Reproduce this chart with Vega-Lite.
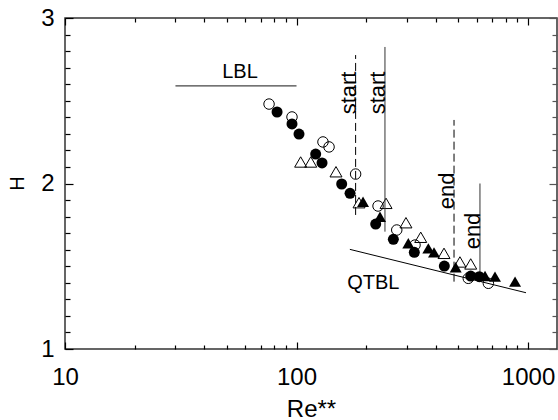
{
  "$schema": "https://vega.github.io/schema/vega-lite/v6.json",
  "width": 492,
  "height": 331,
  "autosize": {"type": "none"},
  "padding": {"left": 65, "top": 18, "right": 1, "bottom": 71},
  "background": "white",
  "config": {
    "view": {"stroke": "#333", "strokeWidth": 1.5},
    "font": "Liberation Sans",
    "axis": {
      "grid": false,
      "labelFont": "Liberation Sans",
      "titleFont": "Liberation Sans",
      "labelColor": "black",
      "titleColor": "black",
      "titleFontWeight": "normal"
    }
  },
  "datasets": {
    "measurements": [
      {"series": "open circle", "re": 76.1, "h": 2.48},
      {"series": "open circle", "re": 95.6, "h": 2.402},
      {"series": "open circle", "re": 130.1, "h": 2.251},
      {"series": "open circle", "re": 138.2, "h": 2.221},
      {"series": "open circle", "re": 180, "h": 2.057},
      {"series": "open circle", "re": 225, "h": 1.864},
      {"series": "open circle", "re": 271, "h": 1.719},
      {"series": "open circle", "re": 325, "h": 1.628},
      {"series": "open circle", "re": 552, "h": 1.427},
      {"series": "open circle", "re": 674, "h": 1.397},
      {"series": "filled circle", "re": 82.4, "h": 2.432},
      {"series": "filled circle", "re": 95.6, "h": 2.36},
      {"series": "filled circle", "re": 102.5, "h": 2.299},
      {"series": "filled circle", "re": 121, "h": 2.178},
      {"series": "filled circle", "re": 128.9, "h": 2.124},
      {"series": "filled circle", "re": 156.7, "h": 1.997},
      {"series": "filled circle", "re": 170.3, "h": 1.941},
      {"series": "filled circle", "re": 219.8, "h": 1.755},
      {"series": "filled circle", "re": 262, "h": 1.663},
      {"series": "filled circle", "re": 322.7, "h": 1.584},
      {"series": "filled circle", "re": 435, "h": 1.501},
      {"series": "filled circle", "re": 565.5, "h": 1.441},
      {"series": "filled circle", "re": 616, "h": 1.437},
      {"series": "open triangle", "re": 104.2, "h": 2.13},
      {"series": "open triangle", "re": 115.2, "h": 2.13},
      {"series": "open triangle", "re": 148.1, "h": 2.071},
      {"series": "open triangle", "re": 186.2, "h": 1.884},
      {"series": "open triangle", "re": 243.6, "h": 1.88},
      {"series": "open triangle", "re": 297, "h": 1.763},
      {"series": "open triangle", "re": 344, "h": 1.675},
      {"series": "open triangle", "re": 433.6, "h": 1.578},
      {"series": "open triangle", "re": 508, "h": 1.526},
      {"series": "open triangle", "re": 565.5, "h": 1.514},
      {"series": "filled triangle", "re": 193.8, "h": 1.89},
      {"series": "filled triangle", "re": 229.4, "h": 1.799},
      {"series": "filled triangle", "re": 304, "h": 1.639},
      {"series": "filled triangle", "re": 371, "h": 1.608},
      {"series": "filled triangle", "re": 392.6, "h": 1.584},
      {"series": "filled triangle", "re": 487, "h": 1.494},
      {"series": "filled triangle", "re": 652, "h": 1.441},
      {"series": "filled triangle", "re": 720, "h": 1.437},
      {"series": "filled triangle", "re": 879, "h": 1.407}
    ],
    "lbl": [
      {"re": 30, "h": 2.59},
      {"re": 100, "h": 2.59}
    ],
    "qtbl": [
      {"re": 170, "h": 1.602},
      {"re": 980, "h": 1.34}
    ],
    "dashedMarkers": [
      {"re": 180, "h": 1.81, "h2": 2.776},
      {"re": 479, "h": 1.407, "h2": 2.384}
    ],
    "solidMarkers": [
      {"re": 241, "h": 1.709, "h2": 2.825},
      {"re": 620, "h": 1.457, "h2": 2.0}
    ],
    "regimeLabels": [
      {"label": "LBL", "re": 57, "h": 2.672},
      {"label": "QTBL", "re": 214.8, "h": 1.401}
    ],
    "transitionLabels": [
      {"label": "start", "re": 180, "h": 2.547},
      {"label": "start", "re": 241, "h": 2.547},
      {"label": "end", "re": 479, "h": 1.955},
      {"label": "end", "re": 620, "h": 1.713}
    ]
  },
  "resolve": {
    "scale": {"x": "shared", "y": "shared"},
    "axis": {"x": "independent", "y": "independent"}
  },
  "layer": [
    {
      "data": {"name": "measurements"},
      "transform": [{"filter": "datum.series === 'open circle'"}],
      "mark": {"type": "point", "shape": "circle", "filled": false, "size": 110, "stroke": "black", "strokeWidth": 1, "opacity": 1},
      "encoding": {
        "x": {"field": "re", "type": "quantitative", "title": "Re**", "scale": {"type": "log", "domain": [10, 1334], "nice": false},
          "axis": {"orient": "bottom", "offset": -7, "domain": false, "values": [10, 100, 1000], "labelExpr": "datum.value + ''", "tickSize": 7, "tickWidth": 1.2, "tickColor": "black", "labelPadding": 16, "labelFontSize": 24, "labelFlush": false, "labelOverlap": false, "titleFontSize": 24, "titleBaseline": "alphabetic", "titleY": 74}},
        "y": {"field": "h", "type": "quantitative", "title": "H", "scale": {"domain": [1, 3], "nice": false, "zero": false},
          "axis": {"orient": "left", "offset": -8, "domain": false, "values": [1, 2, 3], "labelExpr": "datum.value + ''", "tickSize": 8, "tickWidth": 1.2, "tickColor": "black", "labelPadding": 11, "labelFontSize": 24, "labelFlush": false, "labelOverlap": false, "titleFontSize": 20, "titleAngle": 270, "titleBaseline": "alphabetic", "titleAlign": "center", "titleX": -50, "titleY": 165}}
      }
    },
    {
      "data": {"name": "measurements"},
      "transform": [{"filter": "datum.series === 'open triangle'"}],
      "mark": {"type": "point", "shape": "triangle-up", "filled": false, "size": 144, "stroke": "black", "strokeWidth": 1, "opacity": 1},
      "encoding": {
        "x": {"field": "re", "type": "quantitative", "title": null,
          "axis": {"orient": "bottom", "offset": -4, "domain": false, "values": [20, 30, 40, 50, 60, 70, 80, 90, 200, 300, 400, 500, 600, 700, 800, 900], "tickSize": 4, "tickWidth": 1.2, "tickColor": "black", "labels": false}},
        "y": {"field": "h", "type": "quantitative", "title": null,
          "axis": {"orient": "left", "offset": -5, "domain": false, "values": [1.1, 1.2, 1.3, 1.4, 1.5, 1.6, 1.7, 1.8, 1.9, 2.1, 2.2, 2.3, 2.4, 2.5, 2.6, 2.7, 2.8, 2.9], "tickSize": 5, "tickWidth": 1.2, "tickColor": "black", "labels": false}}
      }
    },
    {
      "data": {"name": "lbl"},
      "mark": {"type": "line", "color": "#444", "strokeWidth": 1.2},
      "encoding": {
        "x": {"field": "re", "type": "quantitative", "axis": null},
        "y": {"field": "h", "type": "quantitative", "axis": null}
      }
    },
    {
      "data": {"name": "qtbl"},
      "mark": {"type": "line", "color": "black", "strokeWidth": 1},
      "encoding": {
        "x": {"field": "re", "type": "quantitative", "axis": null},
        "y": {"field": "h", "type": "quantitative", "axis": null}
      }
    },
    {
      "data": {"name": "dashedMarkers"},
      "mark": {"type": "rule", "color": "black", "strokeWidth": 1, "strokeDash": [8, 4]},
      "encoding": {
        "x": {"field": "re", "type": "quantitative", "axis": null},
        "y": {"field": "h", "type": "quantitative", "axis": null},
        "y2": {"field": "h2"}
      }
    },
    {
      "data": {"name": "solidMarkers"},
      "mark": {"type": "rule", "color": "#333", "strokeWidth": 1},
      "encoding": {
        "x": {"field": "re", "type": "quantitative", "axis": null},
        "y": {"field": "h", "type": "quantitative", "axis": null},
        "y2": {"field": "h2"}
      }
    },
    {
      "data": {"name": "regimeLabels"},
      "mark": {"type": "text", "font": "Liberation Sans", "fontSize": 20, "align": "center", "baseline": "middle", "color": "black"},
      "encoding": {
        "x": {"field": "re", "type": "quantitative", "axis": null},
        "y": {"field": "h", "type": "quantitative", "axis": null},
        "text": {"field": "label"}
      }
    },
    {
      "data": {"name": "transitionLabels"},
      "mark": {"type": "text", "font": "Liberation Sans", "fontSize": 22, "align": "center", "baseline": "alphabetic", "angle": 270, "color": "black"},
      "encoding": {
        "x": {"field": "re", "type": "quantitative", "axis": null},
        "y": {"field": "h", "type": "quantitative", "axis": null},
        "text": {"field": "label"}
      }
    },
    {
      "data": {"name": "measurements"},
      "transform": [{"filter": "datum.series === 'filled circle'"}],
      "mark": {"type": "point", "shape": "circle", "filled": true, "size": 121, "color": "black", "opacity": 1},
      "encoding": {
        "x": {"field": "re", "type": "quantitative", "title": null,
          "axis": {"orient": "top", "offset": -7, "domain": false, "values": [10, 100, 1000], "tickSize": 7, "tickWidth": 1.2, "tickColor": "black", "labels": false}},
        "y": {"field": "h", "type": "quantitative", "title": null,
          "axis": {"orient": "right", "offset": -8, "domain": false, "values": [1, 2, 3], "tickSize": 8, "tickWidth": 1.2, "tickColor": "#555", "labels": false}}
      }
    },
    {
      "data": {"name": "measurements"},
      "transform": [{"filter": "datum.series === 'filled triangle'"}],
      "mark": {"type": "point", "shape": "triangle-up", "filled": true, "size": 144, "color": "black", "opacity": 1},
      "encoding": {
        "x": {"field": "re", "type": "quantitative", "title": null,
          "axis": {"orient": "top", "offset": -4, "domain": false, "values": [20, 30, 40, 50, 60, 70, 80, 90, 200, 300, 400, 500, 600, 700, 800, 900], "tickSize": 4, "tickWidth": 1.2, "tickColor": "black", "labels": false}},
        "y": {"field": "h", "type": "quantitative", "title": null,
          "axis": {"orient": "right", "offset": -5, "domain": false, "values": [1.1, 1.2, 1.3, 1.4, 1.5, 1.6, 1.7, 1.8, 1.9, 2.1, 2.2, 2.3, 2.4, 2.5, 2.6, 2.7, 2.8, 2.9], "tickSize": 5, "tickWidth": 1.2, "tickColor": "#555", "labels": false}}
      }
    }
  ]
}
